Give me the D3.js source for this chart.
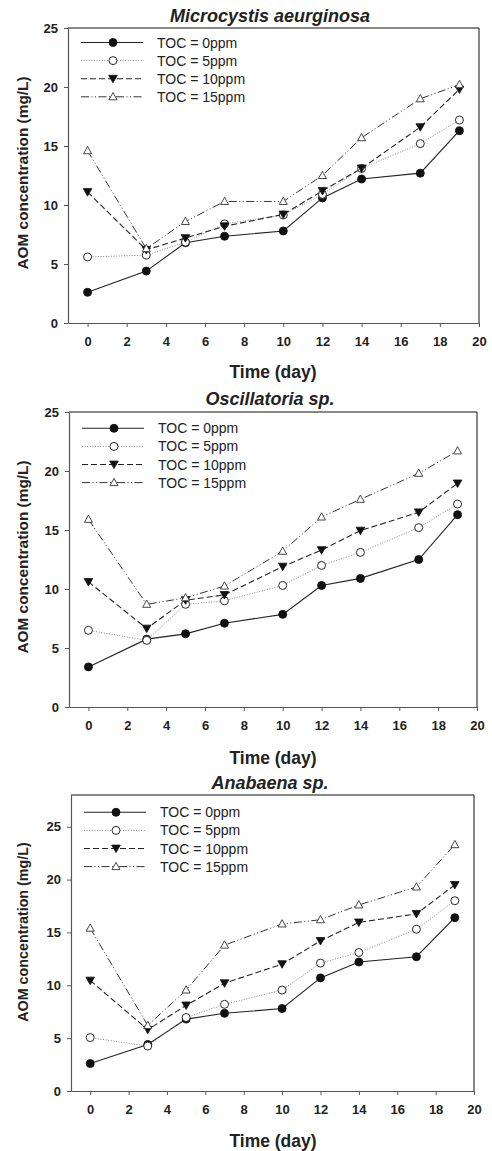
<!DOCTYPE html>
<html>
<head>
<meta charset="utf-8">
<script src="https://cdnjs.cloudflare.com/ajax/libs/d3/7.8.5/d3.min.js"></script>
<style>
  body { margin: 0; background: #fff; }
  svg { display: block; font-family: "Liberation Sans", Arial, sans-serif; }
  .tick text { font-size: 13px; font-weight: bold; fill: #222; }
  .tick line { stroke: #555; }
  .domain { stroke: #555; }
</style>
</head>
<body>
<div id="chart"></div>
<script>
var days = [0, 3, 5, 7, 10, 12, 14, 17, 19];
var seriesNames = ["TOC = 0ppm", "TOC = 5ppm", "TOC = 10ppm", "TOC = 15ppm"];
var titles = ["Microcystis aeurginosa", "Oscillatoria sp.", "Anabaena sp."];
var xTicks = [0, 2, 4, 6, 8, 10, 12, 14, 16, 18, 20];
var yTicks = [0, 5, 10, 15, 20, 25];
var yMax = [25, 25, 28];

// Microcystis aeurginosa
var micro0  = [2.6, 4.4, 6.8, 7.35, 7.8, 10.6, 12.2, 12.7, 16.3];
var micro5  = [5.6, 5.75, 6.85, 8.4, 9.15, 10.9, 13.1, 15.2, 17.2];
var micro10 = [11.1, 6.2, 7.2, 8.2, 9.2, 11.2, 13.1, 16.6, 19.8];
var micro15 = [14.6, 6.3, 8.6, 10.3, 10.3, 12.5, 15.7, 19.0, 20.2];

// Oscillatoria sp.
var osc0  = [3.4, 5.75, 6.2, 7.1, 7.85, 10.3, 10.9, 12.5, 16.3];
var osc5  = [6.5, 5.65, 8.7, 9.0, 10.3, 12.0, 13.1, 15.2, 17.2];
var osc10 = [10.6, 6.65, 9.05, 9.5, 11.9, 13.3, 14.95, 16.5, 18.95];
var osc15 = [15.9, 8.7, 9.25, 10.25, 13.2, 16.1, 17.6, 19.8, 21.7];

// Anabaena sp.
var ana0  = [2.6, 4.4, 6.8, 7.35, 7.8, 10.7, 12.2, 12.7, 16.4];
var ana5  = [5.05, 4.25, 6.95, 8.2, 9.55, 12.1, 13.1, 15.3, 18.0];
var ana10 = [10.45, 5.8, 8.1, 10.2, 12.0, 14.2, 15.95, 16.75, 19.5];
var ana15 = [15.4, 6.2, 9.55, 13.8, 15.8, 16.2, 17.6, 19.3, 23.3];

var panelData = [
  [micro0, micro5, micro10, micro15],
  [osc0, osc5, osc10, osc15],
  [ana0, ana5, ana10, ana15]
];

// layout of each panel (pixels)
var boxes = [
  {left: 68, right: 479, top: 28, bottom: 323, titleY: 21.5, xTitleY: 378, yLabC: 173, yLabF: 15.4, legY: 14.5},
  {left: 69, right: 477, top: 412, bottom: 707, titleY: 404.5, xTitleY: 763.5, yLabC: 557, yLabF: 15.4, legY: 16.3},
  {left: 71, right: 474, top: 795, bottom: 1091, titleY: 789, xTitleY: 1146.5, yLabC: 932, yLabF: 14.3, legY: 17.3}
];

var styles = [
  {dash: null, stroke: "#222", width: 1.1, symbol: "circle", fill: "#111"},
  {dash: "1,1.6", stroke: "#888", width: 1, symbol: "circle", fill: "#fff"},
  {dash: "6,3", stroke: "#222", width: 1.1, symbol: "down", fill: "#111"},
  {dash: "8,2.5,1,2.5,1,2.5", stroke: "#333", width: 1, symbol: "up", fill: "#fff"}
];

var svg = d3.select("#chart").append("svg")
  .attr("width", 492)
  .attr("height", 1151);

function drawMarker(g, st, x, y) {
  if (st.symbol === "down") {
    g.append("path")
      .attr("d", "M-4.3,-3.4 L4.3,-3.4 L0,4.1 Z")
      .attr("transform", "translate(" + x + "," + y + ")")
      .attr("fill", st.fill)
      .attr("stroke", "#111")
      .attr("stroke-width", 0.8);
  } else if (st.symbol === "up") {
    g.append("path")
      .attr("d", "M0,-4.3 L4,3 L-4,3 Z")
      .attr("transform", "translate(" + x + "," + y + ")")
      .attr("fill", st.fill)
      .attr("stroke", "#333")
      .attr("stroke-width", 0.9);
  } else {
    g.append("circle")
      .attr("cx", x).attr("cy", y).attr("r", 4)
      .attr("fill", st.fill)
      .attr("stroke", "#111")
      .attr("stroke-width", 0.9);
  }
}

function drawPanel(p) {
  var b = boxes[p];
  var g = svg.append("g");

  var x = d3.scaleLinear().domain([-1, 20]).range([b.left, b.right]);
  var y = d3.scaleLinear().domain([0, yMax[p]]).range([b.bottom, b.top]);

  // frame: top & right
  g.append("path")
    .attr("d", "M" + b.left + "," + b.top + " H" + b.right + " V" + b.bottom)
    .attr("fill", "none")
    .attr("stroke", "#111")
    .attr("stroke-width", 1);

  g.append("g")
    .attr("transform", "translate(0," + b.bottom + ")")
    .call(d3.axisBottom(x).tickValues(xTicks).tickSize(4).tickSizeOuter(0).tickPadding(10));

  g.append("g")
    .attr("transform", "translate(" + b.left + ",0)")
    .call(d3.axisLeft(y).tickValues(yTicks).tickSize(4).tickSizeOuter(0).tickPadding(6));

  g.selectAll(".domain").attr("stroke-width", 1.2);

  // titles
  g.append("text")
    .attr("x", 270).attr("y", b.titleY)
    .attr("text-anchor", "middle")
    .style("font-size", "18px")
    .style("font-weight", "bold")
    .style("font-style", "italic")
    .attr("fill", "#222")
    .text(titles[p]);

  g.append("text")
    .attr("x", 273).attr("y", b.xTitleY)
    .attr("text-anchor", "middle")
    .style("font-size", "17.5px")
    .style("font-weight", "bold")
    .attr("fill", "#222")
    .text("Time (day)");

  g.append("text")
    .attr("transform", "translate(28," + b.yLabC + ") rotate(-90)")
    .attr("text-anchor", "middle")
    .style("font-size", b.yLabF + "px")
    .style("font-weight", "bold")
    .attr("fill", "#222")
    .text("AOM concentration (mg/L)");

  var line = d3.line()
    .x(function(d, i) { return x(days[i]); })
    .y(function(d) { return y(d); });

  // lines first, then markers
  panelData[p].forEach(function(vals, s) {
    var st = styles[s];
    g.append("path")
      .attr("d", line(vals))
      .attr("fill", "none")
      .attr("stroke", st.stroke)
      .attr("stroke-width", st.width)
      .attr("stroke-dasharray", st.dash);
  });
  panelData[p].forEach(function(vals, s) {
    vals.forEach(function(v, i) {
      drawMarker(g, styles[s], x(days[i]), y(v));
    });
  });

  // legend
  var legTop = b.top + b.legY;
  seriesNames.forEach(function(name, s) {
    var st = styles[s];
    var ly = legTop + s * 18.1;
    g.append("line")
      .attr("x1", b.left + 13).attr("x2", b.left + 75)
      .attr("y1", ly).attr("y2", ly)
      .attr("stroke", st.stroke)
      .attr("stroke-width", st.width)
      .attr("stroke-dasharray", st.dash);
    drawMarker(g, st, b.left + 45, ly);
    g.append("text")
      .attr("x", b.left + 89).attr("y", ly + 5)
      .style("font-size", "14px")
      .attr("fill", "#222")
      .text(name);
  });
}

for (var p = 0; p < 3; p++) {
  drawPanel(p);
}
</script>
</body>
</html>
